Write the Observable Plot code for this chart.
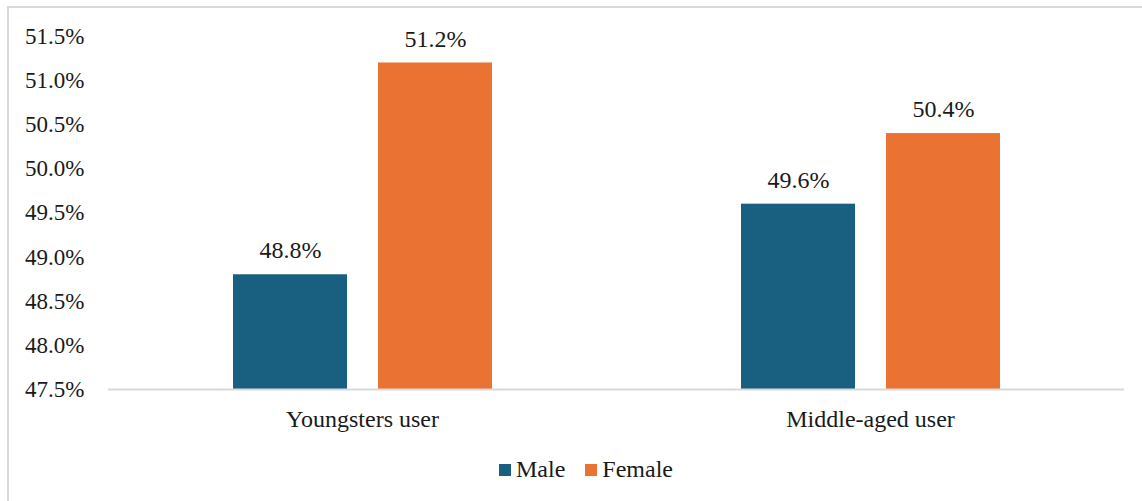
<!DOCTYPE html>
<html>
<head>
<meta charset="utf-8">
<script src="https://cdn.jsdelivr.net/npm/d3@7"></script>
<script src="https://cdn.jsdelivr.net/npm/@observablehq/plot@0.6"></script>
<style>
  html, body { margin: 0; padding: 0; background: #fff; overflow: hidden; width: 1142px; height: 501px; }
  #frame { position: absolute; left: 7px; top: 6px; width: 1300px; height: 700px; border: 2px solid #d9d9d9; box-sizing: border-box; }
  #chart { position: absolute; left: 0; top: 0; }
  #chart svg, #chart svg text { font-family: "Liberation Serif", "Times New Roman", serif !important; font-size: 24px !important; }
  #chart svg g[aria-label="y-axis tick label"], #chart svg g[aria-label="y-axis tick label"] text { font-size: 23px !important; }
  #legend { position: absolute; left: 499px; top: 456px; display: flex; align-items: center; font-family: "Liberation Serif", "Times New Roman", serif; font-size: 24px; color: #1a1a1a; white-space: nowrap; }
  .sw { display: inline-block; width: 12px; height: 12px; margin-right: 5px; }
  .item { display: flex; align-items: center; margin-right: 20px; }
</style>
</head>
<body>
<div id="frame"></div>
<div id="chart"></div>
<div id="legend"></div>
<script>
const categories = ["Youngsters user", "Middle-aged user"];
const series = ["Male", "Female"];
const maleValues = [48.8, 49.6];
const femaleValues = [51.2, 50.4];
const yTicks = [47.5, 48.0, 48.5, 49.0, 49.5, 50.0, 50.5, 51.0, 51.5];
const colors = ["#185f80", "#ea7233"];

const data = [];
categories.forEach((c, i) => {
  data.push({category: c, sex: series[0], value: maleValues[i]});
  data.push({category: c, sex: series[1], value: femaleValues[i]});
});
const fmt = d => d.toFixed(1) + "%";
const base = yTicks[0];

const chart = Plot.plot({
  width: 1142,
  height: 440,
  marginLeft: 108,
  marginRight: 18,
  marginTop: 36,
  marginBottom: 51,
  style: {color: "#1a1a1a", background: "transparent"},
  fx: {domain: categories, padding: 0, label: null, tickSize: 0, tickPadding: 20, axis: "bottom"},
  x: {domain: series, axis: null, paddingInner: 0.2138, paddingOuter: 0.8586},
  y: {domain: [yTicks[0], yTicks[yTicks.length - 1]], ticks: yTicks, tickFormat: fmt, tickSize: 0, tickPadding: 24, label: null},
  color: {domain: series, range: colors},
  marks: [
    Plot.barY(data, {fx: "category", x: "sex", y1: base, y2: "value", fill: "sex"}),
    Plot.ruleY([base], {stroke: "#d9d9d9", strokeWidth: 2}),
    Plot.text(data, {fx: "category", x: "sex", y: "value", text: d => fmt(d.value), dy: -24, fill: "#1a1a1a"})
  ]
});
document.getElementById("chart").appendChild(chart);

const legend = document.getElementById("legend");
series.forEach((s, i) => {
  const item = document.createElement("span");
  item.className = "item";
  const sw = document.createElement("span");
  sw.className = "sw";
  sw.style.background = colors[i];
  item.appendChild(sw);
  item.appendChild(document.createTextNode(s));
  legend.appendChild(item);
});
</script>
</body>
</html>
